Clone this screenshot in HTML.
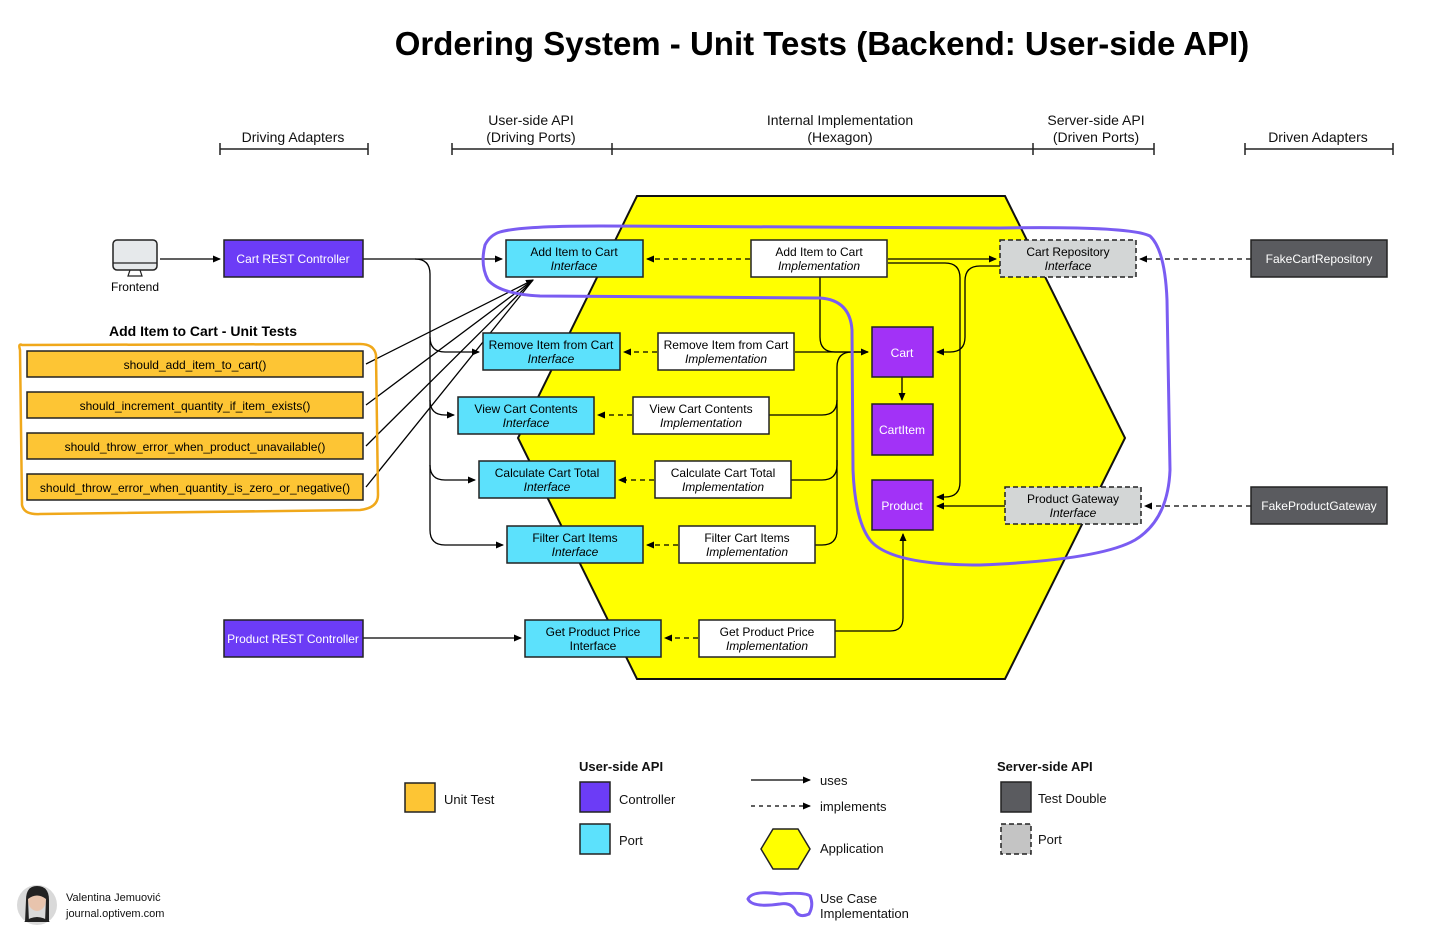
<!DOCTYPE html>
<html><head><meta charset="utf-8"><style>
body{margin:0;background:#fff}
svg{display:block;font-family:"Liberation Sans",sans-serif}
</style></head><body>
<svg width="1456" height="942" viewBox="0 0 1456 942" xmlns="http://www.w3.org/2000/svg">
<defs>
<marker id="a" markerWidth="8" markerHeight="8" refX="7" refY="4" orient="auto" markerUnits="userSpaceOnUse"><path d="M0,0.5 L8,4 L0,7.5z" fill="#000"/></marker>
</defs>
<rect width="1456" height="942" fill="#fff"/>
<text x="822" y="55" font-size="33" font-weight="bold" text-anchor="middle">Ordering System - Unit Tests (Backend: User-side API)</text>

<g font-size="14" text-anchor="middle" fill="#111">
<text x="293" y="142">Driving Adapters</text>
<text x="531" y="125">User-side API</text><text x="531" y="142">(Driving Ports)</text>
<text x="840" y="125">Internal Implementation</text><text x="840" y="142">(Hexagon)</text>
<text x="1096" y="125">Server-side API</text><text x="1096" y="142">(Driven Ports)</text>
<text x="1318" y="142">Driven Adapters</text>
</g>
<g stroke="#222" stroke-width="1.5" fill="none">
<path d="M220,149H368M220,143V155M368,143V155"/>
<path d="M452,149H1154M452,143V155M612,143V155M1033,143V155M1154,143V155"/>
<path d="M1245,149H1393M1245,143V155M1393,143V155"/>
</g>

<!-- hexagon -->
<polygon points="637,196 1005,196 1125,438 1005,679 637,679 518,438" fill="#ffff00" stroke="#111" stroke-width="2"/>

<!-- frontend icon -->
<rect x="113" y="240" width="44" height="30" rx="4" fill="#e6e9eb" stroke="#222" stroke-width="1.5"/>
<line x1="113" y1="263" x2="157" y2="263" stroke="#222" stroke-width="1.2"/>
<path d="M130,270 L128,276 H142 L140,270" fill="none" stroke="#222" stroke-width="1.2"/>
<text x="135" y="291" font-size="12" text-anchor="middle">Frontend</text>

<!-- connectors -->
<g stroke="#000" stroke-width="1.3" fill="none">
<path d="M160,259H220" marker-end="url(#a)"/>
<path d="M363,259H502" marker-end="url(#a)"/>
<path d="M415,259 Q430,259 430,274 V530 Q430,545 445,545 H503" marker-end="url(#a)"/>
<path d="M430,337 Q430,352 445,352 H479" marker-end="url(#a)"/>
<path d="M430,400 Q430,415 445,415 H454" marker-end="url(#a)"/>
<path d="M430,465 Q430,480 445,480 H475" marker-end="url(#a)"/>
<path d="M363,638H521" marker-end="url(#a)"/>
<path d="M366,364 L533,280" marker-end="url(#a)"/>
<path d="M366,405 L533,280"/>
<path d="M366,446 L533,280"/>
<path d="M366,487 L533,280"/>
<path d="M888,259H996" marker-end="url(#a)"/>
<path d="M888,263 H945 Q960,263 960,278 V482 Q960,497 945,497 H937" marker-end="url(#a)"/>
<path d="M820,277 V337 Q820,352 835,352 H868" marker-end="url(#a)"/>
<path d="M795,352 H868"/>
<path d="M769,415 H822 Q837,415 837,400 V367 Q837,352 852,352"/>
<path d="M791,480 H822 Q837,480 837,465 V400"/>
<path d="M815,545 H822 Q837,545 837,530 V460"/>
<path d="M1000,266 H980 Q965,266 965,281 V337 Q965,352 950,352 H937" marker-end="url(#a)"/>
<path d="M902,377 V400" marker-end="url(#a)"/>
<path d="M1005,506 H937" marker-end="url(#a)"/>
<path d="M835,631 H890 Q903,631 903,618 V534" marker-end="url(#a)"/>
</g>
<g stroke="#000" stroke-width="1.3" fill="none" stroke-dasharray="5,4">
<path d="M750,259H647" marker-end="url(#a)"/>
<path d="M657,352H624" marker-end="url(#a)"/>
<path d="M632,415H598" marker-end="url(#a)"/>
<path d="M654,480H619" marker-end="url(#a)"/>
<path d="M678,545H647" marker-end="url(#a)"/>
<path d="M698,638H665" marker-end="url(#a)"/>
<path d="M1251,259H1140" marker-end="url(#a)"/>
<path d="M1251,506H1145" marker-end="url(#a)"/>
</g>

<!-- boxes -->
<g stroke="#222" stroke-width="1.5">
<rect x="224" y="240" width="139" height="37" fill="#6c3cf6"/>
<rect x="224" y="620" width="139" height="37" fill="#6c3cf6"/>
<g fill="#5ce1fc">
<rect x="506" y="240" width="137" height="37"/>
<rect x="483" y="333" width="137" height="37"/>
<rect x="458" y="397" width="136" height="37"/>
<rect x="479" y="461" width="136" height="37"/>
<rect x="507" y="526" width="136" height="37"/>
<rect x="525" y="620" width="136" height="37"/>
</g>
<g fill="#fff">
<rect x="751" y="240" width="136" height="37"/>
<rect x="658" y="333" width="136" height="37"/>
<rect x="633" y="397" width="136" height="37"/>
<rect x="655" y="461" width="136" height="37"/>
<rect x="679" y="526" width="136" height="37"/>
<rect x="699" y="620" width="136" height="37"/>
</g>
<g fill="#a232f7">
<rect x="872" y="327" width="61" height="50"/>
<rect x="872" y="404" width="61" height="51"/>
<rect x="872" y="480" width="61" height="50"/>
</g>
<g fill="#d3d6d6" stroke-dasharray="5,3">
<rect x="1000" y="240" width="136" height="37"/>
<rect x="1005" y="487" width="136" height="37"/>
</g>
<g fill="#5a5b5f">
<rect x="1251" y="240" width="136" height="37"/>
<rect x="1251" y="487" width="136" height="37"/>
</g>
<g fill="#fdc534">
<rect x="27" y="351" width="336" height="26"/>
<rect x="27" y="392" width="336" height="26"/>
<rect x="27" y="433" width="336" height="26"/>
<rect x="27" y="474" width="336" height="26"/>
</g>
</g>

<g font-size="12" text-anchor="middle">
<text x="293" y="263" fill="#fff">Cart REST Controller</text>
<text x="293" y="643" fill="#fff">Product REST Controller</text>
<g fill="#000">
<text x="574" y="256">Add Item to Cart</text><text x="574" y="270" font-style="italic">Interface</text>
<text x="551" y="349">Remove Item from Cart</text><text x="551" y="363" font-style="italic">Interface</text>
<text x="526" y="413">View Cart Contents</text><text x="526" y="427" font-style="italic">Interface</text>
<text x="547" y="477">Calculate Cart Total</text><text x="547" y="491" font-style="italic">Interface</text>
<text x="575" y="542">Filter Cart Items</text><text x="575" y="556" font-style="italic">Interface</text>
<text x="593" y="636">Get Product Price</text><text x="593" y="650">Interface</text>
<text x="819" y="256">Add Item to Cart</text><text x="819" y="270" font-style="italic">Implementation</text>
<text x="726" y="349">Remove Item from Cart</text><text x="726" y="363" font-style="italic">Implementation</text>
<text x="701" y="413">View Cart Contents</text><text x="701" y="427" font-style="italic">Implementation</text>
<text x="723" y="477">Calculate Cart Total</text><text x="723" y="491" font-style="italic">Implementation</text>
<text x="747" y="542">Filter Cart Items</text><text x="747" y="556" font-style="italic">Implementation</text>
<text x="767" y="636">Get Product Price</text><text x="767" y="650" font-style="italic">Implementation</text>
<text x="1068" y="256">Cart Repository</text><text x="1068" y="270" font-style="italic">Interface</text>
<text x="1073" y="503">Product Gateway</text><text x="1073" y="517" font-style="italic">Interface</text>
<text x="195" y="369">should_add_item_to_cart()</text>
<text x="195" y="410">should_increment_quantity_if_item_exists()</text>
<text x="195" y="451">should_throw_error_when_product_unavailable()</text>
<text x="195" y="492">should_throw_error_when_quantity_is_zero_or_negative()</text>
</g>
<g fill="#fff">
<text x="902" y="357">Cart</text>
<text x="902" y="434">CartItem</text>
<text x="902" y="510">Product</text>
<text x="1319" y="263">FakeCartRepository</text>
<text x="1319" y="510">FakeProductGateway</text>
</g>
</g>

<text x="203" y="336" font-size="14" font-weight="bold" text-anchor="middle">Add Item to Cart - Unit Tests</text>
<path d="M22,345 Q18,343 20,350 L22,505 Q24,515 40,514 L360,510 Q378,508 378,495 L376,355 Q374,344 360,344 Z" fill="none" stroke="#f0a81a" stroke-width="2.5"/>

<!-- use case blob -->
<path d="M500,232 Q520,226 600,226 L1000,228 Q1130,226 1150,236 Q1165,250 1167,300 L1170,470 Q1168,520 1135,540 Q1100,560 980,565 Q890,565 870,540 Q855,520 853,470 L852,330 Q850,300 820,298 L540,296 Q500,294 488,280 Q480,265 485,245 Q490,235 500,232 Z" fill="none" stroke="#7a5cf2" stroke-width="3"/>

<!-- legend -->
<g stroke="#222" stroke-width="1.5">
<rect x="405" y="783" width="30" height="29" fill="#fdc534"/>
<rect x="580" y="782" width="30" height="30" fill="#6c3cf6"/>
<rect x="580" y="824" width="30" height="30" fill="#5ce1fc"/>
<rect x="1001" y="782" width="30" height="30" fill="#5a5b5f"/>
<rect x="1001" y="824" width="30" height="30" fill="#c4c4c4" stroke-dasharray="5,3"/>
<polygon points="773,829 798,829 810,849 798,869 773,869 761,849" fill="#ffff00"/>
</g>
<path d="M751,780H810" stroke="#000" stroke-width="1.3" marker-end="url(#a)"/>
<path d="M751,806H810" stroke="#000" stroke-width="1.3" stroke-dasharray="4,4" marker-end="url(#a)"/>
<path d="M748,899 Q752,890 780,894 Q805,892 810,896 Q814,905 809,914 Q800,918 796,912 Q792,902 780,904 Q752,908 748,899 Z" fill="none" stroke="#7a5cf2" stroke-width="3"/>
<g font-size="13" fill="#111">
<text x="444" y="804">Unit Test</text>
<text x="579" y="771" font-weight="bold">User-side API</text>
<text x="619" y="804">Controller</text>
<text x="619" y="845">Port</text>
<text x="820" y="785">uses</text>
<text x="820" y="811">implements</text>
<text x="820" y="853">Application</text>
<text x="820" y="903">Use Case</text>
<text x="820" y="918">Implementation</text>
<text x="997" y="771" font-weight="bold">Server-side API</text>
<text x="1038" y="803">Test Double</text>
<text x="1038" y="844">Port</text>
</g>
<circle cx="37" cy="905" r="20" fill="#d9d9d9"/>
<ellipse cx="37" cy="900" rx="9" ry="11" fill="#e8c4ad"/>
<path d="M26,900 Q26,886 37,886 Q49,886 49,900 L49,922 L45,922 L46,899 Q37,892 28,899 L29,922 L25,922Z" fill="#222"/>
<path d="M24,922 Q37,912 50,922 Z" fill="#222"/>
<g font-size="11" fill="#111">
<text x="66" y="901">Valentina Jemuović</text>
<text x="66" y="917">journal.optivem.com</text>
</g>
</svg>
</body></html>
